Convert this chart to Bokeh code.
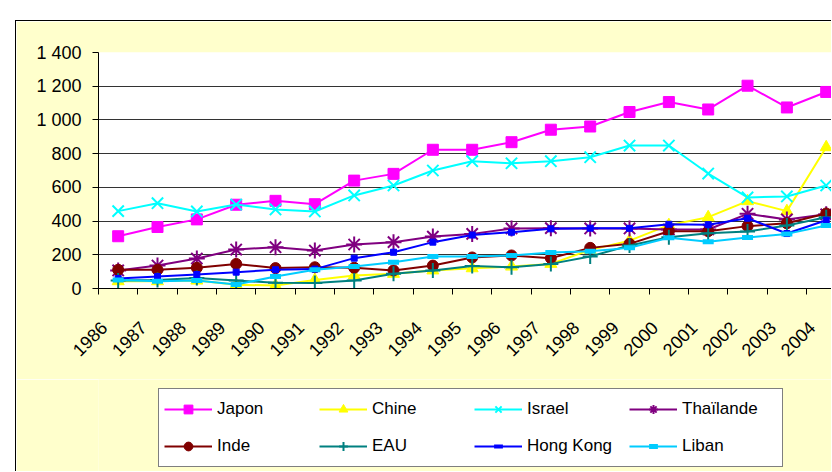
import math
from bokeh.plotting import figure
from bokeh.layouts import column
from bokeh.models import (Range1d, FixedTicker, Legend, LegendItem, ColumnDataSource, LinearAxis)
from bokeh.embed import file_html
from bokeh.resources import INLINE

years = [str(y) for y in range(1986, 2005)]
y_ticks = [0, 200, 400, 600, 800, 1000, 1200, 1400]
y_tick_labels = ["0", "200", "400", "600", "800", "1 000", "1 200", "1 400"]

japon = [310, 365, 410, 497, 520, 500, 640, 680, 823, 823, 868, 942, 961, 1047, 1106, 1062, 1203, 1074, 1166]
chine = [43, 43, 47, 22, 18, 51, 77, 87, 107, 120, 130, 146, 229, 284, 376, 423, 518, 459, 838]
israel = [459, 506, 457, 498, 469, 457, 552, 611, 700, 755, 743, 755, 779, 848, 848, 682, 540, 546, 611]
thailande = [107, 136, 178, 231, 245, 225, 261, 275, 308, 324, 356, 358, 356, 356, 350, 350, 443, 410, 440]
inde = [111, 111, 123, 146, 121, 126, 123, 107, 136, 184, 196, 180, 241, 265, 340, 340, 370, 387, 445]
eau = [47, 51, 63, 47, 34, 32, 47, 87, 107, 133, 126, 146, 190, 255, 304, 328, 338, 374, 423]
hongkong = [59, 71, 83, 97, 111, 115, 180, 215, 275, 317, 334, 354, 358, 357, 381, 378, 417, 326, 405]
liban = [51, 43, 47, 24, 71, 111, 130, 156, 190, 190, 196, 214, 221, 241, 301, 277, 302, 324, 374]

# name, values, colour, chart marker, chart size, legend marker
series = [
    ("Japon", japon, "#FF00FF", "square", 11, "square"),
    ("Chine", chine, "#FFFF00", "triangle", 12, "triangle"),
    ("Israel", israel, "#00FFFF", "x", 16, "x"),
    ("Thaïlande", thailande, "#800080", "asterisk", 16, "asterisk"),
    ("Inde", inde, "#800000", "circle", 11, "circle"),
    ("EAU", eau, "#008080", "cross", 15, "cross"),
    ("Hong Kong", hongkong, "#0000FF", "square", 6, "dash"),
    ("Liban", liban, "#00CCFF", "dash", 11, "dash"),
]

FONT = "Liberation Sans"
BG = "#FFFFCC"
xs = list(range(len(years)))
X0, X1 = -0.5, 18.16
LABEL_SHIFT = 0.36   # visual shift of the rotated year labels (Excel-like anchoring)


def marker_kw(marker, color, size, dash_w=5):
    kw = dict(marker=marker, size=size, line_color=color)
    if marker in ("x", "asterisk", "cross"):
        kw["line_width"] = 2
        kw["fill_color"] = None
    elif marker == "dash":
        kw["line_width"] = dash_w
        kw["fill_color"] = color
    else:
        kw["fill_color"] = color
    return kw


# ---- main chart ----
p = figure(width=816, height=359, output_backend="svg", toolbar_location=None,
           x_range=Range1d(X0, X1), y_range=Range1d(0, 1400),
           x_axis_location=None,
           min_border_left=82, min_border_top=31, min_border_right=0,
           min_border_bottom=92)
p.styles = {"border-top": "1px solid black", "border-left": "1px solid black"}
p.border_fill_color = BG
p.background_fill_color = "white"
p.outline_line_color = None

p.xgrid.grid_line_color = None
p.ygrid.grid_line_color = "#333333"
p.ygrid.grid_line_width = 1
p.ygrid.ticker = FixedTicker(ticks=y_ticks)

p.yaxis.ticker = FixedTicker(ticks=y_ticks)
p.yaxis.major_label_overrides = {t: l for t, l in zip(y_ticks, y_tick_labels)}
p.yaxis.minor_tick_line_color = None
p.yaxis.major_tick_out = 6
p.yaxis.major_tick_in = 0
p.yaxis.major_label_standoff = 11
p.yaxis.axis_line_color = "black"
p.yaxis.major_tick_line_color = "black"
p.yaxis.major_label_text_font = FONT
p.yaxis.major_label_text_font_size = "18px"
p.yaxis.major_label_text_color = "black"

# x axis on a shifted range so the rotated labels end slightly left of each category
p.extra_x_ranges = {"lab": Range1d(X0 + LABEL_SHIFT, X1 + LABEL_SHIFT)}
xaxis = LinearAxis(x_range_name="lab")
xaxis.ticker = FixedTicker(ticks=xs, minor_ticks=[i - 0.5 + LABEL_SHIFT for i in range(len(years) + 1)])
xaxis.major_label_overrides = {i: y for i, y in enumerate(years)}
xaxis.major_tick_line_color = None
xaxis.minor_tick_line_color = "black"
xaxis.minor_tick_out = 6
xaxis.minor_tick_in = 0
xaxis.major_label_orientation = math.pi / 4
xaxis.major_label_standoff = 30
xaxis.axis_line_color = "black"
xaxis.major_label_text_font = FONT
xaxis.major_label_text_font_size = "18px"
xaxis.major_label_text_color = "black"
p.add_layout(xaxis, "below")

for name, vals, color, marker, size, _ in series:
    src = ColumnDataSource(dict(x=xs, y=vals))
    p.line("x", "y", source=src, line_color=color, line_width=2)
    p.scatter("x", "y", source=src, **marker_kw(marker, color, size))

# ---- legend strip ----
q = figure(width=816, height=92, output_backend="svg", toolbar_location=None,
           x_range=Range1d(0, 1), y_range=Range1d(0, 1),
           x_axis_location=None, y_axis_location=None,
           min_border=0, min_border_left=0, min_border_right=0,
           min_border_top=0, min_border_bottom=0)
q.styles = {"border-left": "1px solid black"}
q.border_fill_color = BG
q.background_fill_color = BG
q.outline_line_color = None
q.xgrid.grid_line_color = None
q.ygrid.grid_line_color = None

items = []
for name, vals, color, marker, size, lmarker in series:
    # a single point far outside the visible range: only the legend glyph is seen
    src = ColumnDataSource(dict(x=[-10], y=[-10]))
    r1 = q.line("x", "y", source=src, line_color=color, line_width=2)
    dash_w = 4 if name == "Hong Kong" else 5
    r2 = q.scatter("x", "y", source=src, **marker_kw(lmarker, color, size, dash_w))
    items.append(LegendItem(label=name, renderers=[r1, r2]))

legend = Legend(items=items, location=(60, 4), orientation="horizontal", ncols=4,
                glyph_width=48, glyph_height=22, label_height=30, label_width=95,
                label_standoff=5, spacing=7, padding=5, margin=0,
                label_text_font=FONT, label_text_font_size="17px",
                label_text_color="black",
                border_line_color="black", border_line_width=1,
                background_fill_color="white", background_fill_alpha=1.0)
q.add_layout(legend, "center")

layout = column(p, q, spacing=0)
layout.margin = (20, 0, 0, 15)

open("out.html", "w").write(file_html(layout, INLINE))
